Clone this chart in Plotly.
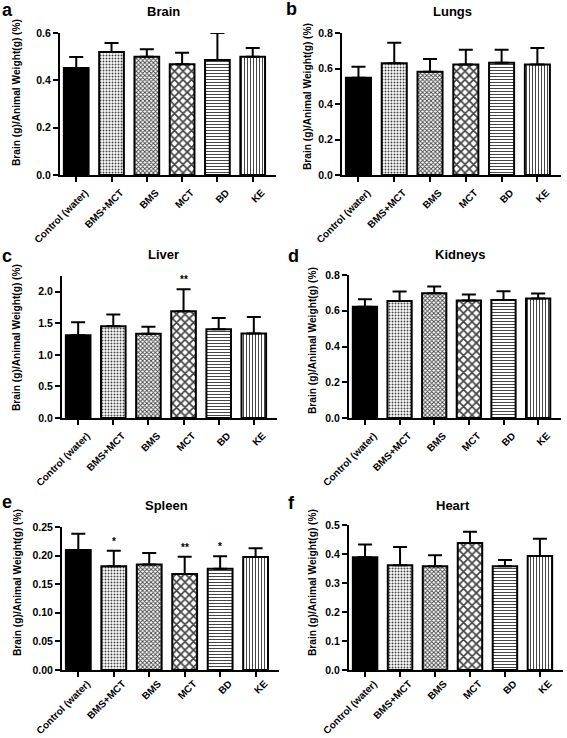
import plotly.graph_objects as go

W, H = 567, 738

categories = ["Control (water)", "BMS+MCT", "BMS", "MCT", "BD", "KE"]

organs = ["Brain", "Lungs", "Liver", "Kidneys", "Spleen", "Heart"]
panel_letters = ["a", "b", "c", "d", "e", "f"]
y_title = "Brain (g)/Animal Weight(g) (%)"

brain_mean = [0.452, 0.520, 0.500, 0.468, 0.486, 0.500]
brain_err = [0.047, 0.038, 0.031, 0.049, 0.114, 0.037]

lungs_mean = [0.548, 0.629, 0.582, 0.622, 0.633, 0.622]
lungs_err = [0.062, 0.116, 0.072, 0.084, 0.073, 0.093]

liver_mean = [1.312, 1.454, 1.333, 1.690, 1.407, 1.339]
liver_err = [0.205, 0.184, 0.111, 0.352, 0.178, 0.262]

kidneys_mean = [0.623, 0.655, 0.698, 0.657, 0.660, 0.668]
kidneys_err = [0.041, 0.053, 0.038, 0.034, 0.049, 0.028]

spleen_mean = [0.210, 0.1815, 0.1846, 0.168, 0.177, 0.1975]
spleen_err = [0.028, 0.027, 0.020, 0.030, 0.022, 0.0155]

heart_mean = [0.389, 0.361, 0.358, 0.438, 0.358, 0.393]
heart_err = [0.044, 0.063, 0.038, 0.039, 0.021, 0.060]

brain_sig = ["", "", "", "", "", ""]
lungs_sig = ["", "", "", "", "", ""]
liver_sig = ["", "", "", "**", "", ""]
kidneys_sig = ["", "", "", "", "", ""]
spleen_sig = ["", "*", "", "**", "*", ""]
heart_sig = ["", "", "", "", "", ""]

y_max = [0.6, 0.8, 2.25, 0.8, 0.25, 0.5]
y_dtick = [0.2, 0.2, 0.5, 0.2, 0.05, 0.1]
y_fmt = [".1f", ".1f", ".1f", ".1f", ".2f", ".1f"]

means = [brain_mean, lungs_mean, liver_mean, kidneys_mean, spleen_mean, heart_mean]
errs = [brain_err, lungs_err, liver_err, kidneys_err, spleen_err, heart_err]
sigs = [brain_sig, lungs_sig, liver_sig, kidneys_sig, spleen_sig, heart_sig]

# ---- styling / layout (pixel geometry) ----
FONT = "Liberation Sans, Arial, sans-serif"
# plot area boxes: (x0, x1, y_top, y_bottom) in px
boxes = [
    (60, 276, 33, 175),
    (342, 561, 33, 175),
    (62, 277, 276, 418),
    (349, 561, 275, 418),
    (62, 279, 527, 670),
    (349, 563, 525, 670),
]
label_standoff = [1, 1, 1, 1, -3, -3]
title_pos = [(163, 12), (452, 12), (163, 255), (460, 255), (166, 506), (453, 505)]
letter_pos = [(7, 10), (291, 9), (7, 256), (293, 256), (7, 502), (291, 503)]
ytitle_pos = [(17, 93), (307, 97), (17, 338), (312, 341), (17, 583), (312, 583)]

bar_fill = ["black", "white", "white", "white", "white", "white"]
pat_shape = ["", ".", "x", "x", "-", "|"]
pat_fg = ["black", "#666666", "#000000", "black", "black", "black"]
pat_size = [4, 3, 3, 6, 3, 3]
pat_sol = [0.3, 0.35, 0.5, 0.5, 0.33, 0.33]


def px_x(x):
    return x / W


def px_y(y):
    return 1 - y / H


fig = go.Figure()
annotations = []
layout = dict(
    template="none",
    width=W, height=H,
    margin=dict(l=0, r=0, t=0, b=0, autoexpand=False),
    paper_bgcolor="white", plot_bgcolor="white",
    showlegend=False,
    font=dict(family=FONT, color="black"),
)

for i in range(6):
    n = i + 1
    xa = "x" if n == 1 else f"x{n}"
    ya = "y" if n == 1 else f"y{n}"
    x0, x1, yt, yb = boxes[i]
    top_vals = [m + e for m, e in zip(means[i], errs[i])]
    fig.add_trace(go.Bar(
        x=categories, y=means[i], xaxis=xa, yaxis=ya,
        width=0.70,
        marker=dict(
            color=bar_fill,
            line=dict(color="black", width=2),
            pattern=dict(shape=pat_shape, fgcolor=pat_fg, bgcolor=bar_fill,
                         size=pat_size, solidity=pat_sol, fillmode="overlay",
                         fgopacity=1),
        ),
        error_y=dict(type="data", symmetric=False, array=errs[i],
                     arrayminus=[0] * len(errs[i]),
                     color="black", thickness=2, width=7),
    ))
    layout[f"xaxis{n if n > 1 else ''}"] = dict(
        domain=[px_x(x0), px_x(x1)], anchor=ya, automargin=False,
        type="category", range=[-0.46, 5.66],
        showline=True, linecolor="black", linewidth=2,
        ticks="outside", ticklen=5, tickwidth=2, tickcolor="black",
        tickangle=-45, ticklabelshift=9, ticklabelstandoff=label_standoff[i],
        tickfont=dict(family=FONT, size=10, color="black", weight="bold"),
        showgrid=False, zeroline=False, fixedrange=True,
    )
    layout[f"yaxis{n if n > 1 else ''}"] = dict(
        domain=[px_y(yb), px_y(yt)], anchor=xa, automargin=False,
        range=[0, y_max[i]], dtick=y_dtick[i], tick0=0, tickformat=y_fmt[i],
        showline=True, linecolor="black", linewidth=2,
        ticks="outside", ticklen=5, tickwidth=2, tickcolor="black",
        tickfont=dict(family=FONT, size=10.5, color="black", weight="bold"),
        showgrid=False, zeroline=False, fixedrange=True,
    )
    # title
    tx, ty = title_pos[i]
    annotations.append(dict(text=organs[i], x=px_x(tx), y=px_y(ty),
                            xref="paper", yref="paper", showarrow=False,
                            xanchor="center", yanchor="middle",
                            font=dict(family=FONT, size=13, color="black", weight="bold")))
    lx, ly = letter_pos[i]
    annotations.append(dict(text=panel_letters[i], x=px_x(lx), y=px_y(ly),
                            xref="paper", yref="paper", showarrow=False,
                            xanchor="center", yanchor="middle",
                            font=dict(family=FONT, size=18, color="black", weight="bold")))
    yx, yy = ytitle_pos[i]
    annotations.append(dict(text=y_title, x=px_x(yx), y=px_y(yy),
                            xref="paper", yref="paper", showarrow=False,
                            textangle=-90, xanchor="center", yanchor="middle",
                            font=dict(family=FONT, size=10.2, color="black", weight="bold")))
    for c, s, tv in zip(categories, sigs[i], top_vals):
        if s:
            annotations.append(dict(text=s, x=c, y=tv, xref=xa, yref=ya,
                                    showarrow=False, yanchor="bottom", yshift=2,
                                    font=dict(family=FONT, size=10, color="black", weight="bold")))

layout["annotations"] = annotations
fig.update_layout(**layout)
fig.write_html("out.html",
               config={"displayModeBar": False, "staticPlot": True},
               post_script="document.body.style.margin='0';document.body.style.overflow='hidden';")
